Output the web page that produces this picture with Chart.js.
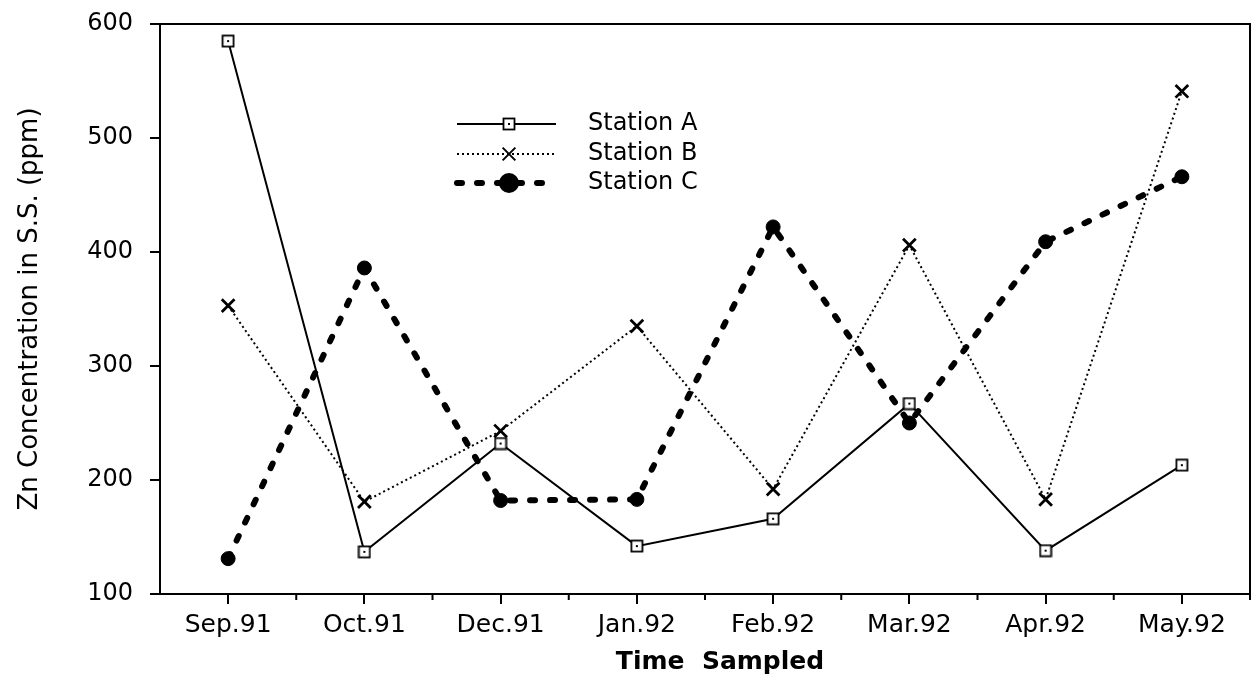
<!DOCTYPE html>
<html>
<head>
<meta charset="utf-8">
<script src="https://cdn.jsdelivr.net/npm/chart.js@4.4.1/dist/chart.umd.min.js"></script>
<style>
  html, body { margin: 0; padding: 0; background: #fff; overflow: hidden; }
  canvas { display: block; }
</style>
</head>
<body>
<canvas id="chart" width="1255" height="690"></canvas>
<script>
// Sampling dates and Zn concentration in suspended solids (ppm) per station
const months = ['Sep.91', 'Oct.91', 'Dec.91', 'Jan.92', 'Feb.92', 'Mar.92', 'Apr.92', 'May.92'];
const stationA = [585, 137, 232, 142, 166, 267, 138, 213];
const stationB = [353, 181, 243, 335, 192, 406, 183, 541];
const stationC = [131, 386, 182, 183, 422, 250, 409, 466];
const yTicks = [100, 200, 300, 400, 500, 600];
const seriesNames = ['Station A', 'Station B', 'Station C'];
const yTitle = 'Zn Concentration in S.S. (ppm)';
const xTitle = 'Time  Sampled';

const FONT = "'DejaVu Sans', Verdana, sans-serif";

// Open square marker with a small centre dot
const squareMarker = (() => {
  const c = document.createElement('canvas');
  c.width = 14; c.height = 14;
  const g = c.getContext('2d');
  g.fillStyle = '#fff';
  g.fillRect(1, 1, 12, 12);
  g.strokeStyle = '#000';
  g.lineWidth = 1.8;
  g.strokeRect(1.5, 1.5, 11, 11);
  g.fillStyle = '#000';
  g.fillRect(6, 6, 2, 2);
  return c;
})();

// Box outline, minor ticks between categories, axis titles and the in-plot legend
const decorations = {
  id: 'decorations',
  beforeDatasetsDraw(chart) {
    const { ctx, chartArea: a } = chart;
    ctx.save();
    ctx.strokeStyle = '#000';
    ctx.lineWidth = 2;
    ctx.beginPath();
    ctx.moveTo(a.left, a.top);
    ctx.lineTo(a.right, a.top);
    ctx.lineTo(a.right, a.bottom);
    ctx.stroke();
    const step = (a.right - a.left) / months.length;
    ctx.beginPath();
    for (let i = 1; i <= months.length; i++) {
      const px = a.left + i * step;
      ctx.moveTo(px, a.bottom);
      ctx.lineTo(px, a.bottom + 6);
    }
    ctx.stroke();
    ctx.restore();
  },
  afterDraw(chart) {
    const { ctx } = chart;
    ctx.save();
    ctx.fillStyle = '#000';

    // y-axis title
    ctx.save();
    ctx.translate(30, 309);
    ctx.rotate(-Math.PI / 2);
    ctx.font = `26px ${FONT}`;
    ctx.textAlign = 'center';
    ctx.textBaseline = 'middle';
    ctx.fillText(yTitle, 0, 0);
    ctx.restore();

    // x-axis title
    ctx.font = `bold 25px ${FONT}`;
    ctx.textAlign = 'center';
    ctx.textBaseline = 'middle';
    ctx.fillText(xTitle, 720, 662);

    // legend rows
    const rows = [124, 154, 183];
    chart.data.datasets.forEach((ds, i) => {
      const y = rows[i];
      ctx.strokeStyle = '#000';
      ctx.lineWidth = ds.borderWidth;
      ctx.setLineDash(ds.borderDash || []);
      ctx.lineCap = ds.borderCapStyle || 'butt';
      ctx.beginPath();
      ctx.moveTo(457, y);
      ctx.lineTo(556, y);
      ctx.stroke();
      ctx.setLineDash([]);
      ctx.fillStyle = ds.pointBackgroundColor;
      ctx.strokeStyle = '#000';
      ctx.lineCap = 'butt';
      Chart.helpers.drawPoint(ctx, {
        pointStyle: ds.pointStyle,
        radius: ds.pointRadius,
        borderWidth: ds.pointBorderWidth,
        rotation: 0
      }, 509, y);
      ctx.fillStyle = '#000';
      ctx.font = `24px ${FONT}`;
      ctx.textBaseline = 'middle';
      ctx.textAlign = 'left';
      ctx.fillText(ds.label, 588, y);
    });
    ctx.restore();
  }
};

new Chart(document.getElementById('chart'), {
  type: 'line',
  data: {
    labels: months,
    datasets: [
      {
        label: seriesNames[0],
        data: stationA,
        borderColor: '#000',
        borderWidth: 2,
        pointStyle: squareMarker,
        pointRadius: 7,
        pointBackgroundColor: '#fff',
        pointBorderColor: '#000',
        pointBorderWidth: 1.8,
        tension: 0,
        order: 1
      },
      {
        label: seriesNames[1],
        data: stationB,
        borderColor: '#000',
        borderWidth: 2,
        borderDash: [2, 3],
        pointStyle: 'crossRot',
        pointRadius: 9,
        pointBackgroundColor: '#000',
        pointBorderColor: '#000',
        pointBorderWidth: 2.8,
        tension: 0,
        order: 2
      },
      {
        label: seriesNames[2],
        data: stationC,
        borderColor: '#000',
        borderWidth: 6,
        borderDash: [5, 15],
        borderCapStyle: 'round',
        pointStyle: 'circle',
        pointRadius: 7,
        pointBackgroundColor: '#000',
        pointBorderColor: '#000',
        pointBorderWidth: 1,
        tension: 0,
        order: 3
      }
    ]
  },
  options: {
    responsive: false,
    animation: false,
    devicePixelRatio: 1,
    layout: { autoPadding: false, padding: { top: 24, right: 5, bottom: 0, left: 0 } },
    plugins: {
      legend: { display: false },
      tooltip: { enabled: false }
    },
    scales: {
      x: {
        type: 'category',
        offset: true,
        afterFit(scale) {
          scale.height = 96;
          scale.paddingLeft = 0;
          scale.paddingRight = 0;
        },
        border: { display: true, color: '#000', width: 2 },
        grid: {
          display: true,
          drawOnChartArea: false,
          drawTicks: true,
          tickLength: 10,
          color: '#000',
          lineWidth: 2,
          offset: false
        },
        ticks: {
          color: '#000',
          font: { family: FONT, size: 25 },
          padding: 6,
          maxRotation: 0,
          autoSkip: false
        },
        title: { display: false }
      },
      y: {
        min: yTicks[0],
        max: yTicks[yTicks.length - 1],
        afterFit(scale) {
          scale.width = 160;
          scale.paddingTop = 0;
          scale.paddingBottom = 0;
          scale.paddingLeft = 0;
          scale.paddingRight = 0;
        },
        afterBuildTicks(scale) { scale.ticks = yTicks.map(v => ({ value: v })); },
        border: { display: true, color: '#000', width: 2 },
        grid: {
          display: true,
          drawOnChartArea: false,
          drawTicks: true,
          tickLength: 10,
          color: '#000',
          lineWidth: 2
        },
        ticks: {
          color: '#000',
          font: { family: FONT, size: 24 },
          padding: 17
        },
        title: { display: false }
      }
    }
  },
  plugins: [decorations]
});
</script>
</body>
</html>
